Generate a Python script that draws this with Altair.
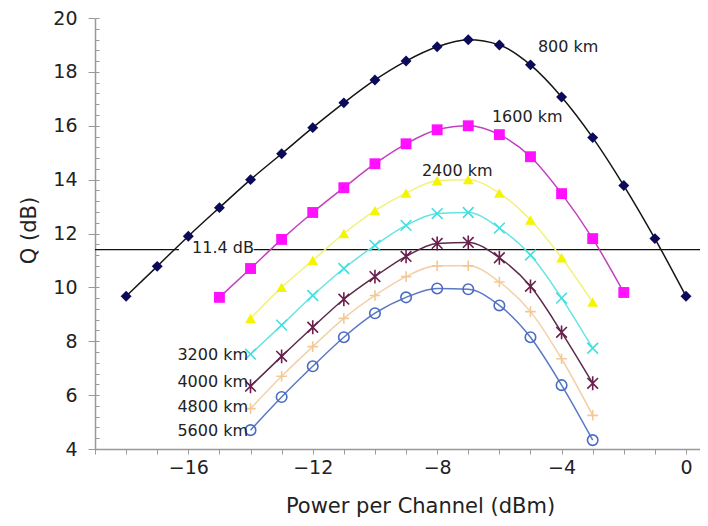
import altair as alt
import pandas as pd

# ---- data ----
names = ["800 km", "1600 km", "2400 km", "3200 km", "4000 km", "4800 km", "5600 km"]

x800 = list(range(-18, 1))
q800 = [9.67, 10.78, 11.9, 12.96, 14.0, 14.96, 15.93, 16.85, 17.7, 18.4,
        18.93, 19.19, 19.0, 18.26, 17.07, 15.56, 13.78, 11.81, 9.67]
x1600 = list(range(-15, -1))
q1600 = [9.63, 10.7, 11.78, 12.78, 13.7, 14.59, 15.33, 15.85, 16.0, 15.67,
         14.85, 13.48, 11.81, 9.81]
x_rest = list(range(-14, -2))
q2400 = [8.85, 10.0, 11.0, 12.0, 12.85, 13.5, 13.96, 14.0, 13.5, 12.5, 11.1, 9.45]
q3200 = [7.52, 8.6, 9.7, 10.7, 11.56, 12.3, 12.74, 12.78, 12.2, 11.2, 9.6, 7.74]
q4000 = [6.33, 7.44, 8.52, 9.56, 10.4, 11.15, 11.63, 11.67, 11.1, 10.04, 8.33, 6.44]
q4800 = [5.5, 6.7, 7.8, 8.85, 9.7, 10.4, 10.8, 10.8, 10.2, 9.1, 7.35, 5.25]
q5600 = [4.7, 5.93, 7.07, 8.15, 9.04, 9.63, 9.96, 9.93, 9.33, 8.15, 6.37, 4.33]

threshold = 11.4
rule_x_start = [-19.0, -13.9]
rule_x_end = [-16.3, 0.45]

label_left_text = ["800 km", "1600 km", "2400 km", "11.4 dB"]
label_left_x = [-4.76, -6.24, -8.49, -15.88]
label_left_q = [18.93, 16.33, 14.33, 11.48]
label_right_text = ["3200 km", "4000 km", "4800 km", "5600 km"]
label_right_x = [-14.08, -14.08, -14.08, -14.08]
label_right_q = [7.48, 6.48, 5.56, 4.67]

x_ticks = list(range(-19, 1))
y_major = [4, 6, 8, 10, 12, 14, 16, 18, 20]
y_minor = [round(4 + 0.4 * i, 1) for i in range(41)]

# ---- styling ----
marker_colors = ["#0b0b5a", "#ff10ff", "#f5f500", "#3fe0e0", "#6a1f4c", "#f3c894", "#4a6cc4"]
line_colors = ["#151515", "#c040c0", "#f2f27a", "#66e4e4", "#5a2a48", "#f3d0a8", "#5a78c4"]
shapes = ["diamond", "square", "triangle-up",
          "M-1,-1L1,1M-1,1L1,-1",
          "M-1,-1L1,1M-1,1L1,-1M0,-1.3L0,1.3",
          "M-1,0L1,0M0,-1L0,1",
          "circle"]
sizes = [120, 110, 110, 100, 110, 60, 90]
filled_names = ["800 km", "1600 km", "2400 km"]

series_x = [x800, x1600, x_rest, x_rest, x_rest, x_rest, x_rest]
series_q = [q800, q1600, q2400, q3200, q4000, q4800, q5600]
rows = []
for n, xs, qs in zip(names, series_x, series_q):
    for xv, qv in zip(xs, qs):
        rows.append({"series": n, "x": xv, "q": qv})
df = pd.DataFrame(rows)

FONT = "DejaVu Sans"

xscale = alt.Scale(domain=[-19, 0.45], nice=False, zero=False)
yscale = alt.Scale(domain=[4, 20], nice=False, zero=False)

X = alt.X("x:Q", scale=xscale,
          axis=alt.Axis(title="Power per Channel (dBm)", values=x_ticks, format="d",
                        labelExpr="datum.value % 4 == 0 ? datum.label : ''",
                        tickSize=5, labelPadding=4, grid=False,
                        titleX=325, titleY=57, titleAlign="center",
                        titleBaseline="middle"))
Y_main = alt.Y("q:Q", scale=yscale,
               axis=alt.Axis(title="Q (dB)", values=y_major, format="d", orient="left",
                             tickSize=7, labelPadding=11, grid=False, labelFontSize=19,
                             titleX=-66, titleY=212, titleAngle=-90,
                             titleAlign="center", titleBaseline="middle"))
Y_minor = alt.Y("q:Q", scale=yscale,
                axis=alt.Axis(title=None, values=y_minor, orient="left", labels=False,
                              domain=False, tickSize=4, offset=-4, grid=False))
Y_none = alt.Y("q:Q", scale=yscale, axis=None)

color_line = alt.Color("series:N", scale=alt.Scale(domain=names, range=line_colors), legend=None)
color_mark = alt.Color("series:N", scale=alt.Scale(domain=names, range=marker_colors), legend=None)
shape_enc = alt.Shape("series:N", scale=alt.Scale(domain=names, range=shapes), legend=None)
size_enc = alt.Size("series:N", scale=alt.Scale(domain=names, range=sizes), legend=None)

rule_df = pd.DataFrame({"x": rule_x_start, "x2": rule_x_end, "q": [threshold] * 2})
rule = alt.Chart(rule_df).mark_rule(color="#111111", strokeWidth=1.3).encode(
    x=X, x2="x2:Q", y=Y_minor)

lines = alt.Chart(df).mark_line(interpolate="monotone", strokeWidth=1.5).encode(
    x=X, y=Y_main, color=color_line)

pts_filled = alt.Chart(df).transform_filter(
    alt.FieldOneOfPredicate(field="series", oneOf=filled_names)
).mark_point(filled=True, opacity=1).encode(
    x=X, y=Y_none, color=color_mark, shape=shape_enc, size=size_enc)

pts_open = alt.Chart(df).transform_filter(
    ~alt.FieldOneOfPredicate(field="series", oneOf=filled_names)
).mark_point(filled=False, opacity=1, strokeWidth=1.6).encode(
    x=X, y=Y_none, color=color_mark, shape=shape_enc, size=size_enc)

left_df = pd.DataFrame({"x": label_left_x, "q": label_left_q, "label": label_left_text})
right_df = pd.DataFrame({"x": label_right_x, "q": label_right_q, "label": label_right_text})

txt_left = alt.Chart(left_df).mark_text(align="left", baseline="middle", font=FONT,
                                        fontSize=16, color="#222222").encode(
    x=X, y=Y_none, text="label:N")
txt_right = alt.Chart(right_df).mark_text(align="right", baseline="middle", font=FONT,
                                          fontSize=16, color="#222222").encode(
    x=X, y=Y_none, text="label:N")

chart = alt.layer(rule, lines, pts_open, pts_filled, txt_left, txt_right).resolve_scale(
    color="independent", y="shared"
).resolve_axis(
    y="independent"
).properties(
    width=605, height=431,
    padding={"left": 87, "top": 10, "right": 0, "bottom": 69},
    autosize=alt.AutoSizeParams(type="none"),
    background="white",
).configure_view(stroke=None).configure_axis(
    labelFont=FONT, titleFont=FONT, titleFontSize=21, labelFontSize=19,
    labelColor="#222222", titleColor="#222222", titleFontWeight="normal",
    domainColor="#999999", tickColor="#999999", domainWidth=1.5,
)

chart.save("out.html", embed_options={"renderer": "svg", "actions": False})
